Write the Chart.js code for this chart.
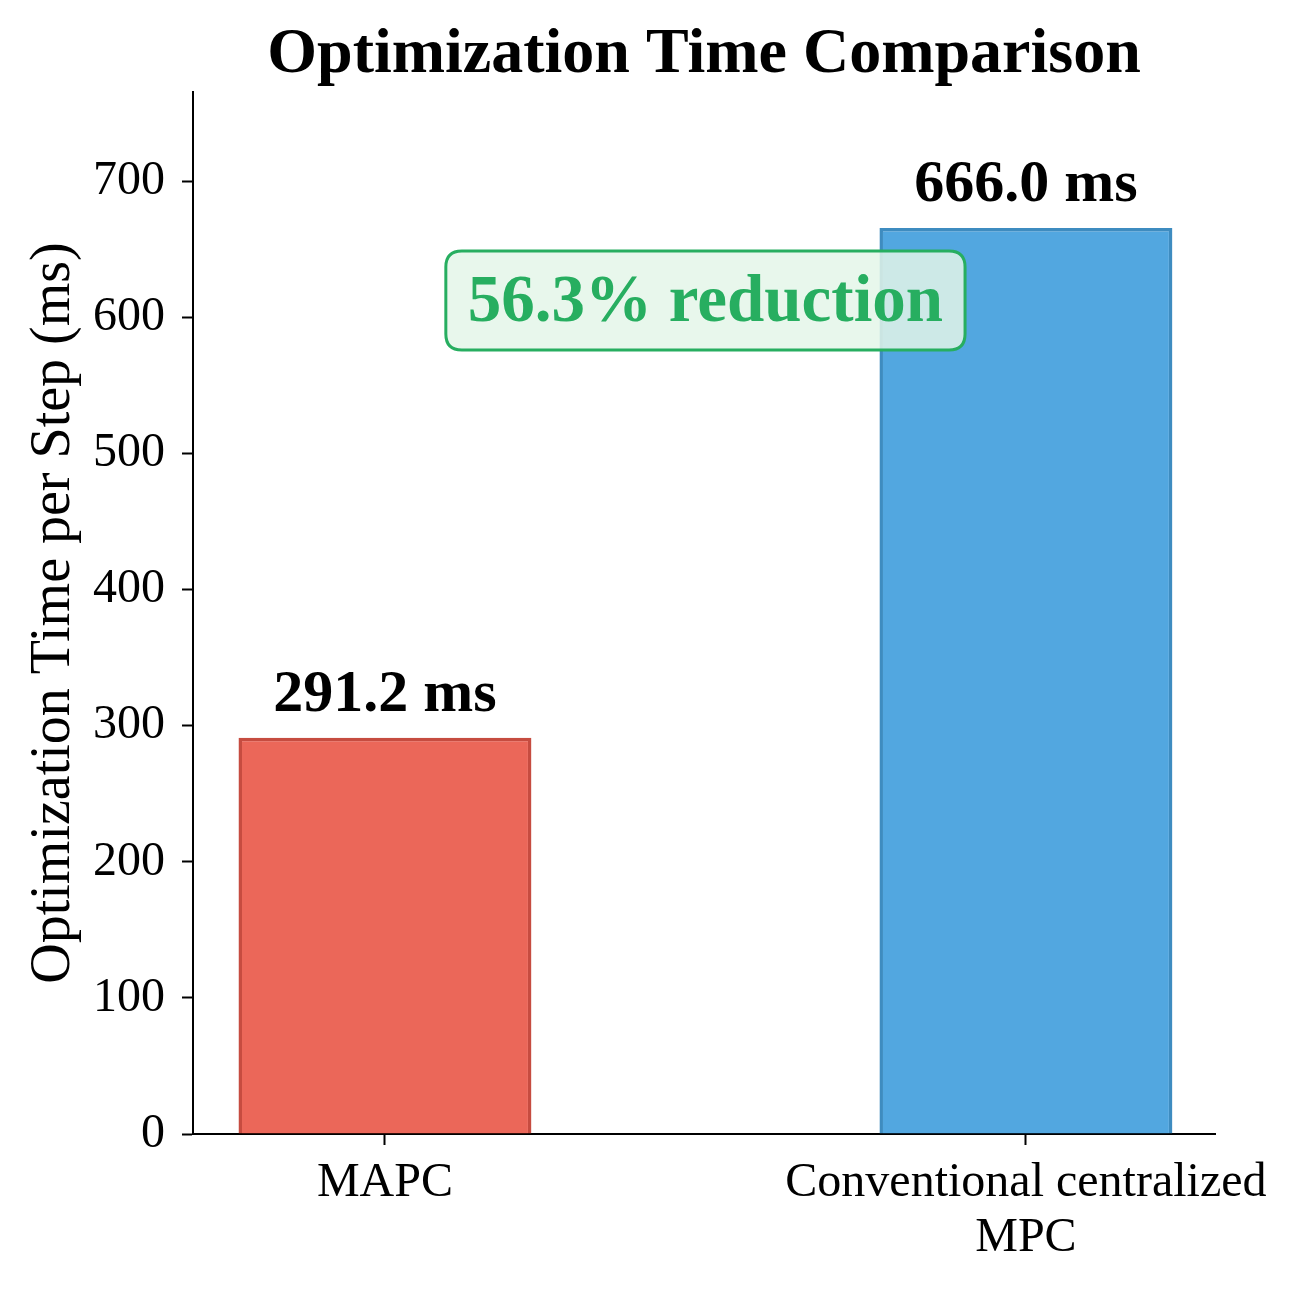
<!DOCTYPE html>
<html>
<head>
<meta charset="utf-8">
<script src="https://cdn.jsdelivr.net/npm/chart.js@4.4.1/dist/chart.umd.min.js"></script>
<style>
  body { margin: 0; background: #fff; }
  #myChart { display: block; }
</style>
</head>
<body>
<canvas id="myChart" width="1300" height="1289"></canvas>
<script>
const categories = ['MAPC', 'Conventional centralized\nMPC'];
const positions = [0, 1];
const times = [291.2, 666.0];
const yTicks = [0, 100, 200, 300, 400, 500, 600, 700];
const reductionText = '56.3% reduction';
const reductionAt = [0.5, 612.7];

const fills = ['rgba(231,76,60,0.85)', 'rgba(52,152,219,0.85)'];
const edges = ['rgba(192,57,43,0.9)', 'rgba(41,128,185,0.9)'];
const serif = "'Liberation Serif', 'Times New Roman', serif";

const ctx = document.getElementById('myChart');

function roundRect(c, x, y, w, h, r) {
    c.beginPath();
    c.moveTo(x + r, y);
    c.lineTo(x + w - r, y);
    c.quadraticCurveTo(x + w, y, x + w, y + r);
    c.lineTo(x + w, y + h - r);
    c.quadraticCurveTo(x + w, y + h, x + w - r, y + h);
    c.lineTo(x + r, y + h);
    c.quadraticCurveTo(x, y + h, x, y + h - r);
    c.lineTo(x, y + r);
    c.quadraticCurveTo(x, y, x + r, y);
    c.closePath();
}

const extras = {
    id: 'extras',
    afterDatasetsDraw(chart) {
        const c = chart.ctx;
        const area = chart.chartArea;
        const xs = chart.scales.x;
        const ys = chart.scales.y;
        c.save();

        // title
        c.fillStyle = '#000';
        c.textAlign = 'center';
        c.textBaseline = 'alphabetic';
        c.font = 'bold 64px ' + serif;
        c.fillText('Optimization Time Comparison', (area.left + area.right) / 2, 72);

        // value labels over bars
        c.font = 'bold 60px ' + serif;
        chart.getDatasetMeta(0).data.forEach((bar, i) => {
            c.fillText(times[i].toFixed(1) + ' ms', bar.x, bar.y - 27);
        });

        // reduction box
        const px = xs.getPixelForValue(reductionAt[0]);
        const py = ys.getPixelForValue(reductionAt[1]);
        c.font = 'bold 67px ' + serif;
        const tw = c.measureText(reductionText).width;
        const bw = tw + 44, bh = 99;
        roundRect(c, px - bw / 2, py - bh / 2, bw, bh, 16);
        c.fillStyle = 'rgba(228,246,233,0.85)';
        c.fill();
        c.lineWidth = 3;
        c.strokeStyle = '#27ae60';
        c.stroke();
        c.fillStyle = '#27ae60';
        c.textBaseline = 'middle';
        c.fillText(reductionText, px, py + 3);

        c.restore();
    }
};

const chart = new Chart(ctx, {
    type: 'bar',
    data: {
        datasets: [{
            data: positions.map((p, i) => ({ x: p, y: times[i] })),
            backgroundColor: fills,
            borderColor: edges,
            borderWidth: 3.5,
            barPercentage: 0.457,
            categoryPercentage: 1.0
        }]
    },
    options: {
        responsive: false,
        animation: false,
        devicePixelRatio: 1,
        layout: { padding: { left: 0, right: 85, top: 92, bottom: 0 } },
        plugins: {
            legend: { display: false },
            tooltip: { enabled: false }
        },
        scales: {
            x: {
                type: 'linear',
                offset: false,
                min: -0.2995,
                max: 1.295,
                afterBuildTicks: (scale) => { scale.ticks = positions.map(v => ({ value: v })); },
                afterFit: (scale) => { scale.height = 155; },
                grid: {
                    display: true,
                    offset: false,
                    drawOnChartArea: false,
                    drawTicks: true,
                    tickLength: 11,
                    tickWidth: 2,
                    tickColor: '#000'
                },
                border: { display: true, color: '#000', width: 2 },
                ticks: {
                    color: '#000',
                    padding: 11,
                    maxRotation: 0,
                    autoSkip: false,
                    font: { family: serif, size: 48, lineHeight: 1.15 },
                    callback: (v) => {
                        const i = positions.indexOf(v);
                        return i < 0 ? '' : categories[i].split('\n');
                    }
                }
            },
            y: {
                min: 0,
                max: 765.9,
                afterBuildTicks: (scale) => { scale.ticks = yTicks.map(v => ({ value: v })); },
                afterFit: (scale) => { scale.width = 193; },
                grid: {
                    display: true,
                    drawOnChartArea: false,
                    drawTicks: true,
                    tickLength: 11,
                    tickWidth: 2,
                    tickColor: '#000'
                },
                border: { display: true, color: '#000', width: 2 },
                ticks: {
                    color: '#000',
                    padding: 17,
                    font: { family: serif, size: 48 }
                },
                title: {
                    display: true,
                    text: 'Optimization Time per Step (ms)',
                    color: '#000',
                    padding: { top: 21, bottom: 0 },
                    font: { family: serif, size: 56 }
                }
            }
        }
    },
    plugins: [extras]
});
</script>
</body>
</html>
